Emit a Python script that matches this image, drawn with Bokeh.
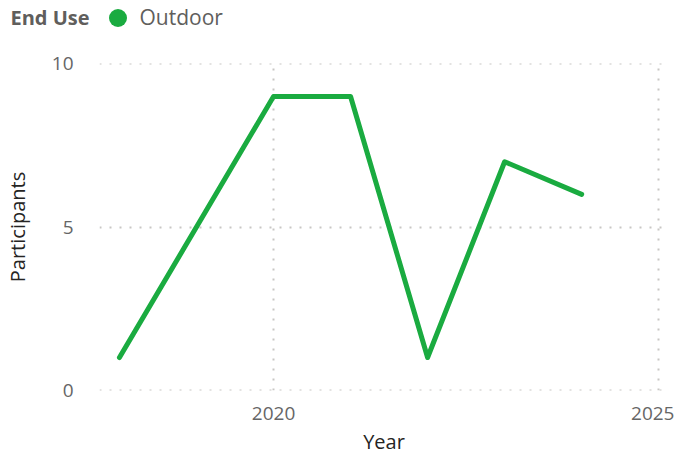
from bokeh.plotting import figure
from bokeh.layouts import column
from bokeh.models import (Range1d, SingleIntervalTicker, Legend, LegendItem,
                          ColumnDataSource, Label)
from bokeh.embed import file_html
from bokeh.resources import INLINE

years = [2018, 2020, 2021, 2022, 2023, 2024]
participants = [1, 9, 9, 1, 7, 6]
series_name = "Outdoor"
legend_title = "End Use"

FONT = "Open Sans"
GREEN = "#1AAB40"
LEG_H = 45

src = ColumnDataSource(dict(x=years, y=participants))

# legend strip
lf = figure(width=674, height=LEG_H, output_backend="svg", toolbar_location=None,
            x_axis_type=None, y_axis_type=None, min_border=0,
            min_border_left=0, min_border_right=0, min_border_top=0, min_border_bottom=0)
if "frame_align" in lf.properties():
    lf.frame_align = False
lf.outline_line_color = None
lf.xgrid.visible = False
lf.ygrid.visible = False
key = lf.scatter("x", "y", source=src, marker="circle", size=0,
                 fill_color=GREEN, line_color=None)

legend = Legend(items=[LegendItem(label=series_name, renderers=[key])],
                orientation="horizontal", location=(94.5, 5.5),
                padding=0, margin=0, spacing=0,
                glyph_width=45, glyph_height=45, label_standoff=-17,
                border_line_color=None, background_fill_alpha=0,
                label_text_font=FONT, label_text_font_size="21px", label_text_color="#605E5C")
lf.add_layout(legend, "center")
lf.add_layout(Label(x=10, y=LEG_H - 17, x_units="screen", y_units="screen",
                    text=legend_title, text_font=FONT, text_font_size="20px",
                    text_font_style="bold", text_color="#605E5C",
                    text_baseline="middle", text_align="left"))

# main chart
p = figure(width=674, height=459 - LEG_H, output_backend="svg", toolbar_location=None,
           x_range=Range1d(2017.741, 2025.127), y_range=Range1d(-0.01, 10.01),
           min_border_left=86, min_border_right=6, min_border_top=63 - LEG_H, min_border_bottom=69)
if "frame_align" in p.properties():
    p.frame_align = False
p.outline_line_color = None
p.background_fill_color = "white"

p.line("x", "y", source=src, line_color=GREEN, line_width=5, line_cap="round", line_join="round")

for ax in (p.xaxis[0], p.yaxis[0]):
    ax.axis_line_color = None
    ax.major_tick_line_color = None
    ax.minor_tick_line_color = None
    ax.major_label_text_font = FONT
    ax.major_label_text_font_size = "19px"
    ax.major_label_text_color = "#666666"
    ax.axis_label_text_font = FONT
    ax.axis_label_text_font_style = "normal"
    ax.axis_label_text_color = "#252423"

p.xaxis.axis_label_text_font_size = "20px"
p.yaxis.axis_label_text_font_size = "20px"
p.xaxis.ticker = SingleIntervalTicker(interval=5)
p.yaxis.ticker = SingleIntervalTicker(interval=5)
p.xaxis.axis_label = "Year"
p.yaxis.axis_label = "Participants"
p.xaxis.major_label_standoff = 10
p.xaxis.axis_label_standoff = 5
p.yaxis.major_label_standoff = 20
p.yaxis.axis_label_standoff = 18

for g in (p.xgrid[0], p.ygrid[0]):
    g.grid_line_color = "#C8C6C4"
    g.grid_line_dash = "2 8"
    g.grid_line_width = 2

layout = column(lf, p, spacing=0)
open("out.html", "w").write(file_html(layout, INLINE))
